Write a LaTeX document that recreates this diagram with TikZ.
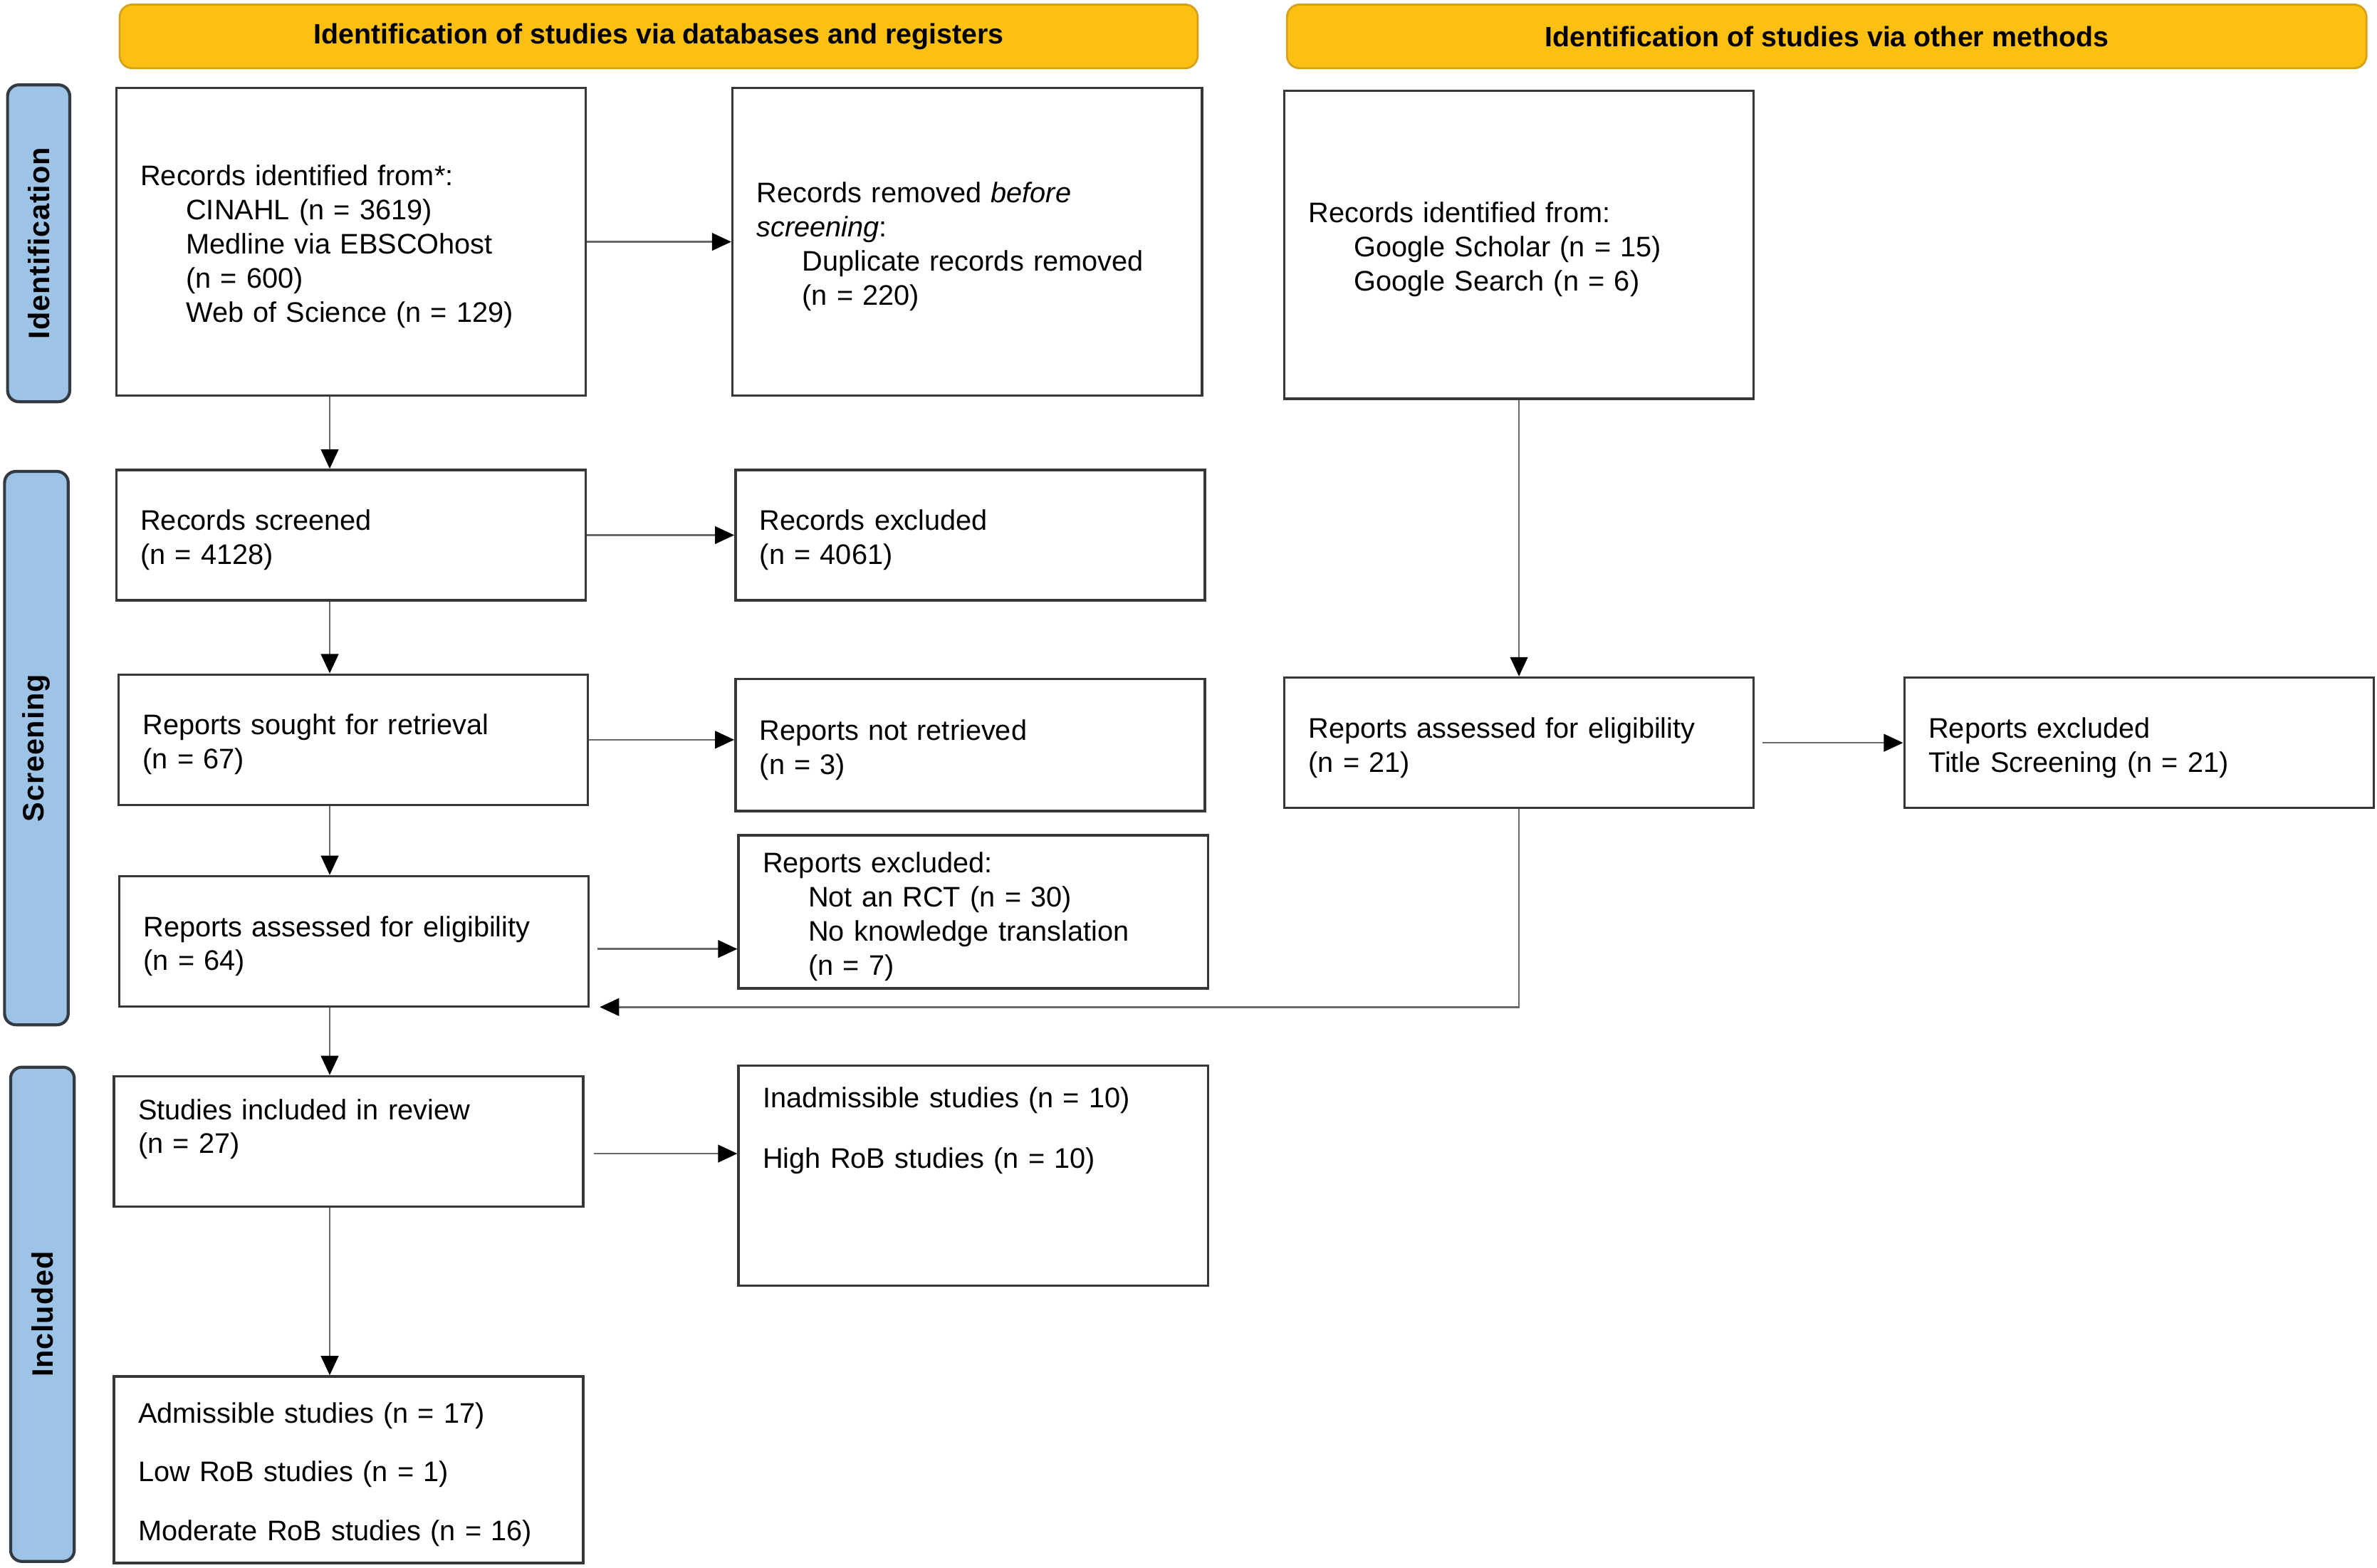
\documentclass[tikz,border=0pt]{standalone}
\usepackage{fontspec}
\setmainfont{Liberation Sans}
\usetikzlibrary{arrows.meta,calc}
\definecolor{banfill}{RGB}{252,192,18}
\definecolor{banedge}{RGB}{214,162,30}
\definecolor{sidefill}{RGB}{157,195,230}
\definecolor{sideedge}{RGB}{52,58,66}
\definecolor{boxedge}{RGB}{55,55,55}
\definecolor{linegray}{RGB}{105,105,105}
\newcommand\ind{\hspace*{0.64cm}}
\begin{document}
\begin{tikzpicture}[x=0.021288cm,y=-0.021288cm,
  every node/.style={font=\fontsize{11.3}{13.6}\selectfont},
  box/.style={draw=boxedge, line width=1pt, fill=white, inner xsep=0.34cm, inner ysep=0pt,
    align=left, text width=5.91cm, text height=12pt},
  banner/.style={draw=banedge, line width=0.8pt, fill=banfill, rounded corners=5pt,
    minimum height=0.894cm, inner sep=0pt, font=\fontsize{11.2}{13.4}\selectfont\bfseries},
  side/.style={draw=sideedge, line width=1.2pt, fill=sidefill, rounded corners=4.5pt,
    rotate=90, inner sep=0pt, font=\fontsize{11.8}{13.4}\selectfont\bfseries\addfontfeatures{LetterSpace=2}},
  arr/.style={draw=linegray, line width=0.7pt, -{Triangle[length=7.7pt,width=7pt,color=black]}}
]
\useasboundingbox (0,0) rectangle (1568,1034);

% banners
\node[banner, minimum width=15.136cm] (h1) at (434.5,24) {Identification of studies via databases and registers};
\node[banner, minimum width=15.157cm] (h2) at (1205,24) {Identification of studies via other methods};

% side bars
\node[side, minimum width=4.449cm, minimum height=0.873cm] (s1) at (25.5,160.5) {Identification};
\node[side, minimum width=7.770cm, minimum height=0.894cm] (s2) at (24,493.5) {Screening};
\node[side, minimum width=6.940cm, minimum height=0.894cm] (s3) at (28,867) {Included};

% boxes
\node[box, minimum height=4.321cm] (A) at (231.5,159.5) {Records identified from*:\\
  \ind CINAHL (n = 3619)\\ \ind Medline via EBSCOhost\\ \ind (n = 600)\\ \ind Web of Science (n = 129)};
\node[box, minimum height=4.321cm] (B) at (638,159.5) {Records removed \textit{before}\\
  \textit{screening}:\\ \ind Duplicate records removed\\ \ind (n = 220)};
\node[box, minimum height=4.321cm] (C) at (1002,161.5) {Records identified from:\\
  \ind Google Scholar (n = 15)\\ \ind Google Search (n = 6)};
\node[box, minimum height=1.831cm] (D) at (231.5,353) {Records screened\\(n = 4128)};
\node[box, minimum height=1.831cm] (E) at (640,353) {Records excluded\\(n = 4061)};
\node[box, minimum height=1.831cm] (F) at (233,488) {Reports sought for retrieval\\(n = 67)};
\node[box, minimum height=1.852cm] (G) at (640,491.5) {Reports not retrieved\\(n = 3)};
\node[box, minimum height=1.831cm] (H) at (233.5,621) {Reports assessed for eligibility\\(n = 64)};
\node[box, minimum height=2.150cm] (I) at (642,601.5) {Reports excluded:\\
  \ind Not an RCT (n = 30)\\ \ind No knowledge translation\\ \ind (n = 7)};
\node[box, minimum height=1.831cm] (J) at (1002,490) {Reports assessed for eligibility\\(n = 21)};
\node[box, minimum height=1.831cm] (K) at (1411,490) {Reports excluded\\Title Screening (n = 21)};
\node[box, minimum height=1.831cm, text depth=1.04cm] (L) at (230,753) {Studies included in review\\(n = 27)};
\node[box, minimum height=3.087cm, text depth=2.33cm] (M) at (642,775.5) {Inadmissible studies (n = 10)\\[10.7pt]
  High RoB studies (n = 10)};
\node[box, minimum height=2.618cm] (N) at (230,969.5) {Admissible studies (n = 17)\\[9.8pt]
  Low RoB studies (n = 1)\\[9.8pt] Moderate RoB studies (n = 16)};

% connectors
\coordinate (col) at (217.5,0);
\coordinate (rH) at (0,626);
\coordinate (rL) at (0,761);
\draw[arr] (A.south -| col) -- (D.north -| col);
\draw[arr] (D.south -| col) -- (F.north -| col);
\draw[arr] (F.south -| col) -- (H.north -| col);
\draw[arr] (H.south -| col) -- (L.north -| col);
\draw[arr] (L.south -| col) -- (N.north -| col);
\draw[arr] (A.east) -- (B.west);
\draw[arr] (D.east) -- (E.west);
\draw[arr] (F.east) -- (F.east -| G.west);
\draw[arr] ($(H.east |- rH)+(5,0)$) -- (I.west |- rH);
\draw[arr] (C.south) -- (J.north);
\draw[arr] ($(J.east)+(5,0)$) -- (K.west);
\draw[arr] ($(L.east |- rL)+(6,0)$) -- (M.west |- rL);
\draw[arr] (J.south) |- ($(H.south east)+(6.5,-0.5)$);
\end{tikzpicture}
\end{document}
